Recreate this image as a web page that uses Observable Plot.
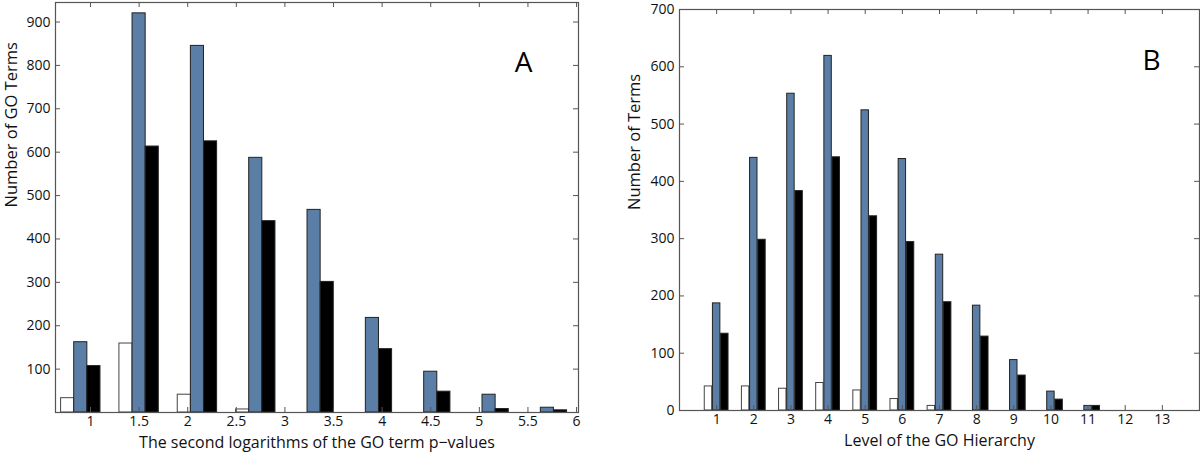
<!DOCTYPE html>
<html><head><meta charset="utf-8">
<script src="https://cdn.jsdelivr.net/npm/d3@7"></script>
<script src="https://cdn.jsdelivr.net/npm/@observablehq/plot@0.6"></script>
<style>
html,body{margin:0;padding:0;background:#fff;}
#wrap{display:flex;width:1200px;height:455px;overflow:hidden;}
#wrap svg{display:block;}
</style></head><body><div id="wrap"></div>
<script>
// Panel A: histogram of second logarithms of GO term p-values
const binsA = [0.9, 1.5, 2.1, 2.7, 3.3, 3.9, 4.5, 5.1, 5.7];
const whiteA = [33, 159, 41, 7, 0, 0, 0, 0, 0];
const blueA = [162, 920, 845, 587, 467, 218, 94, 41, 11];
const blackA = [107, 613, 625, 441, 301, 146, 48, 8, 5];
const xTicksA = [1, 1.5, 2, 2.5, 3, 3.5, 4, 4.5, 5, 5.5, 6];
const yTicksA = [100, 200, 300, 400, 500, 600, 700, 800, 900];

// Panel B: level of the GO hierarchy
const levelsB = [1, 2, 3, 4, 5, 6, 7, 8, 9, 10, 11, 12, 13];
const whiteB = [42, 42, 38, 48, 35, 20, 8, 0, 0, 0, 0, 0, 0];
const blueB = [187, 441, 553, 619, 524, 439, 272, 183, 88, 33, 8, 0, 0];
const blackB = [134, 298, 383, 442, 339, 294, 189, 129, 61, 19, 8, 0, 0];
const xTicksB = levelsB;
const yTicksB = [0, 100, 200, 300, 400, 500, 600, 700];

const seriesColors = ["#ffffff", "#5a7ea6", "#000000"];

function rows(centers, series, w, step) {
  const out = [];
  series.forEach((vals, si) => {
    vals.forEach((v, i) => {
      if (v > 0) {
        const c = centers[i] + (si - 1) * step;
        out.push({x1: c - w / 2, x2: c + w / 2, y: v, s: si});
      }
    });
  });
  return out;
}

const FONT = "'Open Sans', 'DejaVu Sans', sans-serif";
const frameColor = "#555";
const TICK = 5;

function panel(opts) {
  const data = rows(opts.centers, opts.series, opts.w, opts.step);
  const H = 455;
  const innerH = H - opts.mt - opts.mb;
  const innerW = opts.width - opts.ml - opts.mr;
  return Plot.plot({
    width: opts.width,
    height: H,
    marginLeft: opts.ml, marginRight: opts.mr, marginTop: opts.mt, marginBottom: opts.mb,
    style: {fontFamily: FONT, fontSize: "14px", color: "#111", background: "#fff"},
    x: {domain: opts.xDomain, label: null},
    y: {domain: opts.yDomain, label: null},
    marks: [
      Plot.rectY(data, {x1: "x1", x2: "x2", y: "y", fill: d => seriesColors[d.s], stroke: d => d.s === 0 ? "#444" : "#222", strokeWidth: 1}),
      // inward tick marks on all four sides
      Plot.tickX(opts.xTicks, {x: d => d, insetTop: innerH - TICK, stroke: frameColor}),
      Plot.tickX(opts.xTicks, {x: d => d, insetBottom: innerH - TICK, stroke: frameColor}),
      Plot.tickY(opts.yTicks, {y: d => d, insetRight: innerW - TICK, stroke: frameColor}),
      Plot.tickY(opts.yTicks, {y: d => d, insetLeft: innerW - TICK, stroke: frameColor}),
      Plot.frame({stroke: frameColor, strokeWidth: 1.2}),
      Plot.axisX({ticks: opts.xTicks, tickSize: 0, tickPadding: 4, tickFormat: d => String(d)}),
      Plot.axisY({ticks: opts.yTicks, tickSize: 0, tickPadding: 5, tickFormat: d => String(d)}),
      Plot.text([opts.xLabel], {frameAnchor: "bottom", dy: opts.xLabelDy, fontSize: 16, fill: "#111"}),
      Plot.text([opts.yLabel], {frameAnchor: "left", rotate: -90, dx: opts.yLabelDx, fontSize: 16.5, fill: "#111"}),
      Plot.text([opts.letter], {frameAnchor: "top-right", dx: opts.letterDx, dy: opts.letterDy, fontSize: 28, textAnchor: "middle", fill: "#000"})
    ]
  });
}

const wrap = document.getElementById("wrap");
wrap.appendChild(panel({
  width: 600, ml: 55, mr: 22, mt: 2, mb: 43,
  centers: binsA, series: [whiteA, blueA, blackA], w: 0.135, step: 0.135,
  xDomain: [0.64, 6.02], yDomain: [0, 945],
  xTicks: xTicksA, yTicks: yTicksA,
  xLabel: "The second logarithms of the GO term p\u2212values", xLabelDy: 35,
  yLabel: "Number of GO Terms", yLabelDx: -44,
  letter: "A", letterDx: -55, letterDy: 50
}));
wrap.appendChild(panel({
  width: 600, ml: 79, mr: 1, mt: 9, mb: 45,
  centers: levelsB, series: [whiteB, blueB, blackB], w: 0.2, step: 0.22,
  xDomain: [0, 14], yDomain: [0, 700],
  xTicks: xTicksB, yTicks: yTicksB,
  xLabel: "Level of the GO Hierarchy", xLabelDy: 35,
  yLabel: "Number of Terms", yLabelDx: -45,
  letter: "B", letterDx: -48, letterDy: 41
}));
</script></body></html>
